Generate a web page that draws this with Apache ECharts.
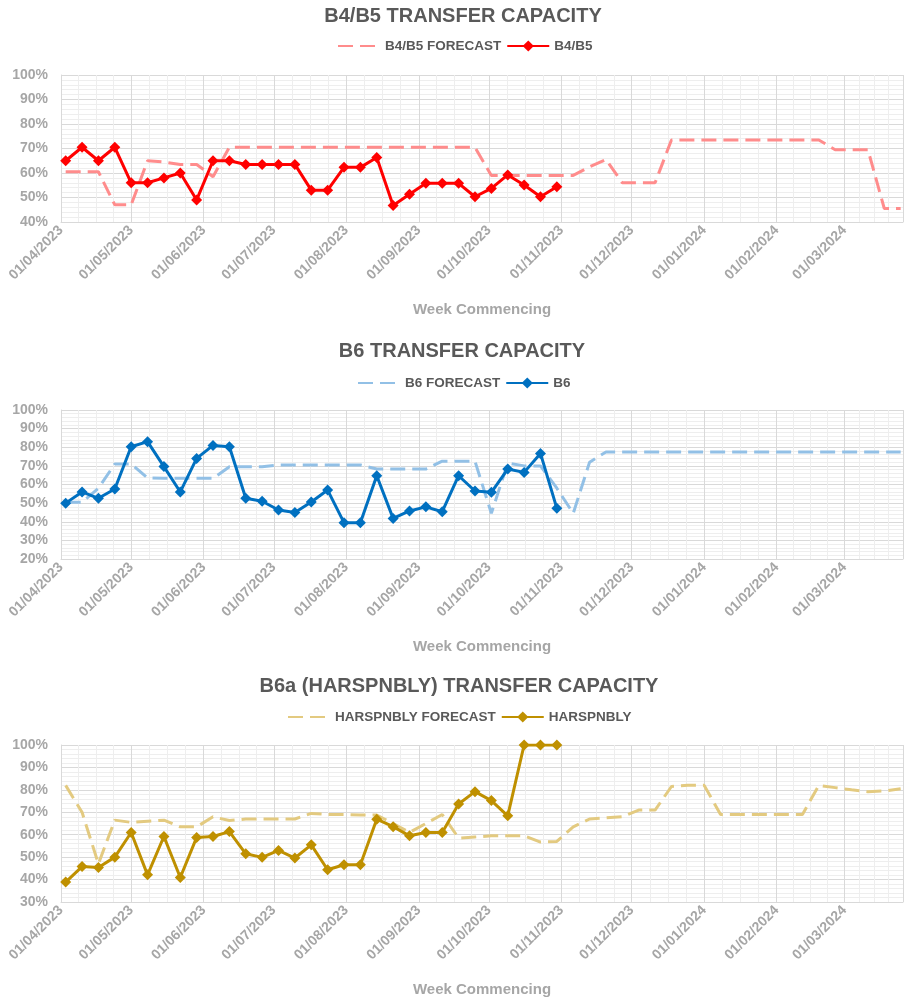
<!DOCTYPE html>
<html>
<head>
<meta charset="utf-8">
<script src="https://cdn.jsdelivr.net/npm/echarts@6/dist/echarts.min.js"></script>
<style>
  html, body { margin: 0; padding: 0; background: #fff; }
  #chart { width: 905px; height: 998px; }
</style>
</head>
<body>
<div id="chart"></div>
<script>
// week commencing (Mondays)
const weeks = [
  '2023-04-03', '2023-04-10', '2023-04-17', '2023-04-24', '2023-05-01', '2023-05-08', '2023-05-15',
  '2023-05-22', '2023-05-29', '2023-06-05', '2023-06-12', '2023-06-19', '2023-06-26', '2023-07-03',
  '2023-07-10', '2023-07-17', '2023-07-24', '2023-07-31', '2023-08-07', '2023-08-14', '2023-08-21',
  '2023-08-28', '2023-09-04', '2023-09-11', '2023-09-18', '2023-09-25', '2023-10-02', '2023-10-09',
  '2023-10-16', '2023-10-23', '2023-10-30', '2023-11-06', '2023-11-13', '2023-11-20', '2023-11-27',
  '2023-12-04', '2023-12-11', '2023-12-18', '2023-12-25', '2024-01-01', '2024-01-08', '2024-01-15',
  '2024-01-22', '2024-01-29', '2024-02-05', '2024-02-12', '2024-02-19', '2024-02-26', '2024-03-04',
  '2024-03-11', '2024-03-18', '2024-03-25'
]

// B4/B5 (%)
const b45Actual = [65, 70.5, 65, 70.5, 56, 56, 58, 60, 49, 65, 65, 63.5, 63.5, 63.5, 63.5, 53, 53,
  62.3, 62.3, 66.3, 46.7, 51.3, 55.8, 55.8, 55.8, 50.3, 53.7, 59.2, 55.1, 50.3, 54.4]
const b45Forecast = [60.5, 60.5, 60.5, 47, 47, 65, 64.5, 63.5, 63.5, 58.5,
  70.5, 70.5, 70.5, 70.5, 70.5, 70.5, 70.5, 70.5, 70.5, 70.5, 70.5, 70.5, 70.5, 70.5, 70.5, 70.5,
  59, 59, 59, 59, 59, 59, 62.5, 65.5, 56, 56, 56,
  73.5, 73.5, 73.5, 73.5, 73.5, 73.5, 73.5, 73.5, 73.5, 73.5, 69.5, 69.5, 69.5, 45.5, 45.5]

// B6 (%)
const b6Actual = [50, 56, 52.6, 57.6, 80.3, 83, 69.6, 56, 74, 81, 80.3, 52.6, 51, 46.3, 45, 50.6, 57,
  39.5, 39.5, 64.7, 41.8, 45.8, 48, 45.4, 64.7, 56.5, 55.8, 68.3, 66.5, 76.7, 47.2]
const b6Forecast = [50.5, 50.5, 58, 71, 71, 63.5, 63.3, 63.3, 63.3, 63.3, 69.5, 69.5, 69.5,
  70.5, 70.5, 70.5, 70.5, 70.5, 70.5, 68.3, 68.3, 68.3, 68.3, 72.5, 72.5, 72.5, 44.5, 71.5, 70, 70,
  58, 44.5, 72, 77.5, 77.5, 77.5, 77.5, 77.5, 77.5, 77.5, 77.5, 77.5, 77.5, 77.5, 77.5, 77.5, 77.5,
  77.5, 77.5, 77.5, 77.5, 77.5]

// B6a HARSPNBLY (%)
const harActual = [38.9, 45.8, 45.4, 50, 61, 42.1, 59.2, 40.9, 58.8, 59.2, 61.4, 51.5, 49.9, 53, 49.6,
  55.5, 44.4, 46.6, 46.6, 66.9, 63.6, 59.5, 61, 61, 73.7, 79.2, 75.2, 68.4, 100, 100, 100]
const harForecast = [82, 70, 47, 66.5, 65.5, 66, 66.5, 63.5, 63.5, 68,
  66.3, 67, 67, 67, 67, 69.5, 69, 69, 68.8, 68.8,
  65, 61, 65, 69, 58.5, 59, 59.5, 59.5, 59.5, 56.7,
  57, 63.5, 67, 67.5, 68, 71, 71, 81.5, 82, 82,
  69, 69, 69, 69, 69, 69, 82, 81, 80, 79.2, 79.5, 80.5]

const panels = [
  { title: 'B4/B5 TRANSFER CAPACITY', name: 'B4/B5', actual: b45Actual, forecast: b45Forecast,
    color: '#ff0000', fcColor: '#ff8c8c', yMin: 40, top: 75, height: 147,
    titleTop: 1, titleX: 458, legendTop: 34, legendLeft: 332 },
  { title: 'B6 TRANSFER CAPACITY', name: 'B6', actual: b6Actual, forecast: b6Forecast,
    color: '#0070c0', fcColor: '#92c0e6', yMin: 20, top: 410, height: 149,
    titleTop: 336, titleX: 457, legendTop: 371, legendLeft: 352 },
  { title: 'B6a (HARSPNBLY) TRANSFER CAPACITY', name: 'HARSPNBLY', actual: harActual, forecast: harForecast,
    color: '#bf9000', fcColor: '#e3ca80', yMin: 30, top: 745, height: 157,
    titleTop: 671, titleX: 454, legendTop: 705, legendLeft: 282 }
]

const FONT = '"Liberation Sans", Arial, sans-serif'
const DAY = 86400000

const fmtDate = (v) => {
  const d = new Date(v)
  const p = (n) => String(n).padStart(2, '0')
  return p(d.getDate()) + '/' + p(d.getMonth() + 1) + '/' + d.getFullYear()
}

const chart = echarts.init(document.getElementById('chart'), null, { renderer: 'canvas' })

const option = {
  backgroundColor: '#fff',
  animation: false,
  title: panels.map(p => ({
    text: p.title, left: p.titleX, top: p.titleTop, textAlign: 'center',
    textStyle: { fontFamily: FONT, fontSize: 20, fontWeight: 'bold', color: '#595959' }
  })),
  legend: panels.map(p => ({
    data: [
      { name: p.name + ' FORECAST', itemStyle: { opacity: 0 } },
      { name: p.name }
    ],
    left: p.legendLeft, top: p.legendTop,
    itemWidth: 42, itemHeight: 14, itemGap: 5,
    textStyle: { fontFamily: FONT, fontSize: 13.5, fontWeight: 'bold', color: '#595959' }
  })),
  grid: panels.map(p => ({ left: 61, right: 2, top: p.top, height: p.height })),
  xAxis: panels.map((p, i) => ({
    type: 'time',
    gridIndex: i,
    min: '2023-04-01',
    max: '2024-03-26',
    splitNumber: 12,
    minInterval: 28 * DAY,
    maxInterval: 31 * DAY,
    name: 'Week Commencing',
    nameLocation: 'middle',
    nameGap: 80,
    nameTextStyle: { fontFamily: FONT, fontSize: 15, fontWeight: 'bold', color: '#a6a6a6' },
    axisLine: { lineStyle: { color: '#d9d9d9' } },
    axisTick: { show: false },
    axisLabel: {
      rotate: 45, margin: 6, formatter: fmtDate,
      fontFamily: FONT, fontSize: 14, fontWeight: 'bold', color: '#a6a6a6'
    },
    splitLine: { show: true, lineStyle: { color: '#d9d9d9' } },
    minorTick: { show: false, splitNumber: 4 },
    minorSplitLine: { show: true, lineStyle: { color: '#eeeeee' } }
  })),
  yAxis: panels.map((p, i) => ({
    type: 'value',
    gridIndex: i,
    min: p.yMin, max: 100, interval: 10,
    axisLine: { show: true, lineStyle: { color: '#d9d9d9' } },
    axisTick: { show: false },
    axisLabel: {
      formatter: '{value}%', margin: 13,
      fontFamily: FONT, fontSize: 14, fontWeight: 'bold', color: '#a6a6a6'
    },
    splitLine: { lineStyle: { color: '#d9d9d9' } },
    minorTick: { show: false, splitNumber: 5 },
    minorSplitLine: { show: true, lineStyle: { color: '#eeeeee' } }
  })),
  series: panels.flatMap((p, i) => [
    {
      name: p.name + ' FORECAST', type: 'line', xAxisIndex: i, yAxisIndex: i,
      data: weeks.map((d, k) => [d, p.forecast[k]]),
      symbol: 'none', z: 2,
      itemStyle: { color: p.fcColor },
      lineStyle: { color: p.fcColor, width: 3, type: [15, 7] }
    },
    {
      name: p.name, type: 'line', xAxisIndex: i, yAxisIndex: i,
      data: p.actual.map((v, k) => [weeks[k], v]),
      symbol: 'diamond', symbolSize: 11, z: 3,
      itemStyle: { color: p.color },
      lineStyle: { color: p.color, width: 3 }
    }
  ])
}

chart.setOption(option)
</script>
</body>
</html>
